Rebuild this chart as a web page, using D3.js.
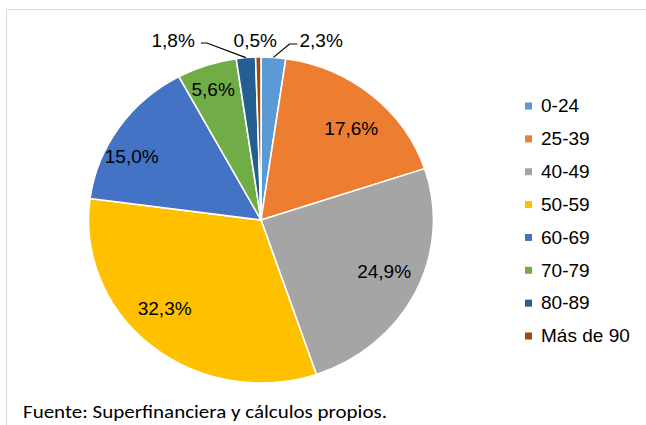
<!DOCTYPE html>
<html>
<head>
<meta charset="utf-8">
<script src="https://cdn.jsdelivr.net/npm/d3@7"></script>
<style>
  html, body { margin: 0; padding: 0; background: #fff; }
  svg { display: block; }
</style>
</head>
<body>
<script>
const categories = ["0-24", "25-39", "40-49", "50-59", "60-69", "70-79", "80-89", "Más de 90"];
const values = [2.3, 17.6, 24.9, 32.3, 15.0, 5.6, 1.8, 0.5];
const colors = ["#5B9BD5", "#ED7D31", "#A5A5A5", "#FFC000", "#4472C4", "#70AD47", "#255E91", "#9E480E"];
const footer = "Fuente: Superfinanciera y cálculos propios.";

const W = 646, H = 425;
const sx = 1.058;           // horizontal stretch of the original picture
const X = x => x / sx;      // page x -> root-group x
const cx = 261, cy = 220, R = 163;

const fmt = v => d3.format(".1f")(v).replace(".", ",") + "%";

const svg = d3.select("body").append("svg").attr("width", W).attr("height", H);

// frame
svg.append("path").attr("d", `M6.5,${H} V9.5 H${W}`)
  .attr("fill", "none").attr("stroke", "#D9D9D9").attr("stroke-width", 1);

const root = svg.append("g").attr("transform", `scale(${sx},1)`);

const pie = d3.pie().sort(null).value(d => d);
const arcs = pie(values);
const arc = d3.arc().innerRadius(0).outerRadius(R);

const g = root.append("g").attr("transform", `translate(${X(cx)},${cy})`);
g.selectAll("path.slice").data(arcs).join("path")
  .attr("class", "slice")
  .attr("d", arc)
  .attr("fill", (d, i) => colors[i])
  .attr("stroke", "#fff").attr("stroke-width", 1.5).attr("stroke-linejoin", "round");

const fontLab = "'Liberation Sans', Arial, sans-serif";
const fs = 18;

// inside labels
const labArc = d3.arc().innerRadius(130).outerRadius(130);
const nudge = { 1: [2, 8], 2: [0, -6], 3: [-9, -12], 4: [-16, 10], 5: [-4.5, -7] };
arcs.forEach((d, i) => {
  if (!(i in nudge)) return;
  const c = labArc.centroid(d);
  g.append("text")
    .attr("x", c[0] + X(nudge[i][0]))
    .attr("y", c[1] + nudge[i][1])
    .attr("dy", "0.35em")
    .attr("text-anchor", "middle")
    .attr("font-family", fontLab).attr("font-size", fs).attr("fill", "#000")
    .text(fmt(values[i]));
});

// outside labels with leader lines
const edgeArc = d3.arc().innerRadius(R).outerRadius(R);
const ly = 44 - cy, tb = 46.5 - cy;
function edge(i) { return edgeArc.centroid(arcs[i]); }
// 0-24
{
  const e = edge(0);
  g.append("path").attr("d", `M${e[0]},${e[1]} L${e[0] + X(16)},${ly} L${e[0] + X(24)},${ly}`)
    .attr("fill", "none").attr("stroke", "#000").attr("stroke-width", 1.2);
  g.append("text").attr("x", e[0] + X(26)).attr("y", tb)
    .attr("font-family", fontLab).attr("font-size", fs).attr("text-anchor", "start")
    .text(fmt(values[0]));
}
// 80-89
{
  const e = edge(6);
  g.append("path").attr("d", `M${e[0]},${e[1]} L${e[0] - X(39)},${ly - 1} L${e[0] - X(45)},${ly - 1}`)
    .attr("fill", "none").attr("stroke", "#000").attr("stroke-width", 1.2);
  g.append("text").attr("x", e[0] - X(51)).attr("y", tb)
    .attr("font-family", fontLab).attr("font-size", fs).attr("text-anchor", "end")
    .text(fmt(values[6]));
}
// Más de 90
{
  const e = edge(7);
  g.append("text").attr("x", e[0] - X(3)).attr("y", tb)
    .attr("font-family", fontLab).attr("font-size", fs).attr("text-anchor", "middle")
    .text(fmt(values[7]));
}

// legend
const legY = d3.scalePoint().domain(categories).range([106, 336]);
const leg = root.append("g");
categories.forEach((c, i) => {
  const y = legY(c);
  leg.append("rect").attr("x", X(525)).attr("y", y - 3.5).attr("width", X(7)).attr("height", 7)
    .attr("fill", colors[i]);
  leg.append("text").attr("x", X(541)).attr("y", y).attr("dy", "0.35em")
    .attr("font-family", fontLab).attr("font-size", fs).attr("fill", "#000")
    .text(c);
});

// footer
root.append("text").attr("x", X(23)).attr("y", 418)
  .attr("font-family", "Carlito, Lato, 'Open Sans', sans-serif").attr("font-size", 18)
  .attr("textLength", X(364)).attr("lengthAdjust", "spacingAndGlyphs")
  .attr("fill", "#000")
  .text(footer);
</script>
</body>
</html>
